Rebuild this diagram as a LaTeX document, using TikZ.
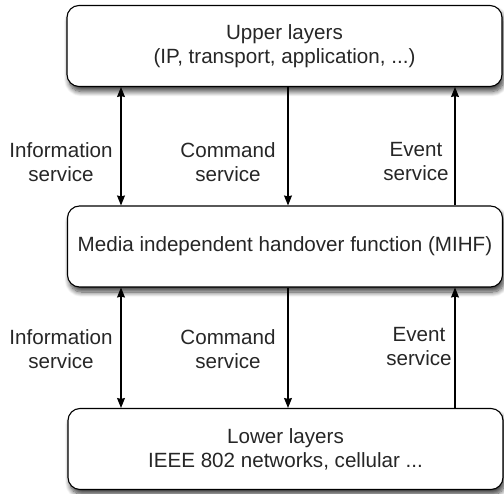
\documentclass[tikz,border=0pt]{standalone}
\usepackage{fontspec}
\setmainfont{Liberation Sans}
\usetikzlibrary{shadows.blur,arrows.meta}
\begin{document}
\begin{tikzpicture}[x=1pt,y=-1pt,
  layerbox/.style={draw=black, line width=1.1pt, rounded corners=12pt, fill=white,
    minimum width=435pt, minimum height=81pt, align=center, inner sep=0pt,
    font=\fontsize{20.6}{24}\selectfont, text=black!85,
    blur shadow={shadow xshift=2pt, shadow yshift=-5pt, shadow blur steps=10, shadow blur radius=5pt, shadow opacity=75}},
  lbl/.style={align=center, inner sep=0pt, font=\fontsize{20.6}{24}\selectfont, text=black!85},
  conn/.style={line width=1.1pt, draw=black, -{Stealth[length=10pt,width=8pt,inset=1pt]}},
  conn2/.style={line width=1.1pt, draw=black, {Stealth[length=10pt,width=8pt,inset=1pt]}-{Stealth[length=10pt,width=8pt,inset=1pt]}}
]
\useasboundingbox (0,0) rectangle (504,494);
\node[layerbox] (top) at (284.5,46) {Upper layers\\(IP, transport, application, ...)};
\node[layerbox] (mid) at (285,246.5) {Media independent handover function (MIHF)};
\node[layerbox] (bot) at (285.5,449) {Lower layers\\IEEE 802 networks, cellular ...};
\coordinate (xA) at (121,0);
\coordinate (xB) at (288,0);
\coordinate (xC) at (455,0);
% upper arrows
\draw[conn2] (top.south -| xA) -- (mid.north -| xA);
\draw[conn] (top.south -| xB) -- (mid.north -| xB);
\draw[conn] (mid.north -| xC) -- (top.south -| xC);
% lower arrows
\draw[conn2] (mid.south -| xA) -- (bot.north -| xA);
\draw[conn] (mid.south -| xB) -- (bot.north -| xB);
\draw[conn] (bot.north -| xC) -- (mid.south -| xC);
% labels
\node[lbl] (l1) at (61,162) {Information\\service};
\node[lbl] (l2) at (228,162) {Command\\service};
\node[lbl] (l3) at (416,162) {Event\\service};
\node[lbl] (l4) at (61,349) {Information\\service};
\node[lbl] (l5) at (228,349) {Command\\service};
\node[lbl] (l6) at (419,347) {Event\\service};
\end{tikzpicture}
\end{document}
